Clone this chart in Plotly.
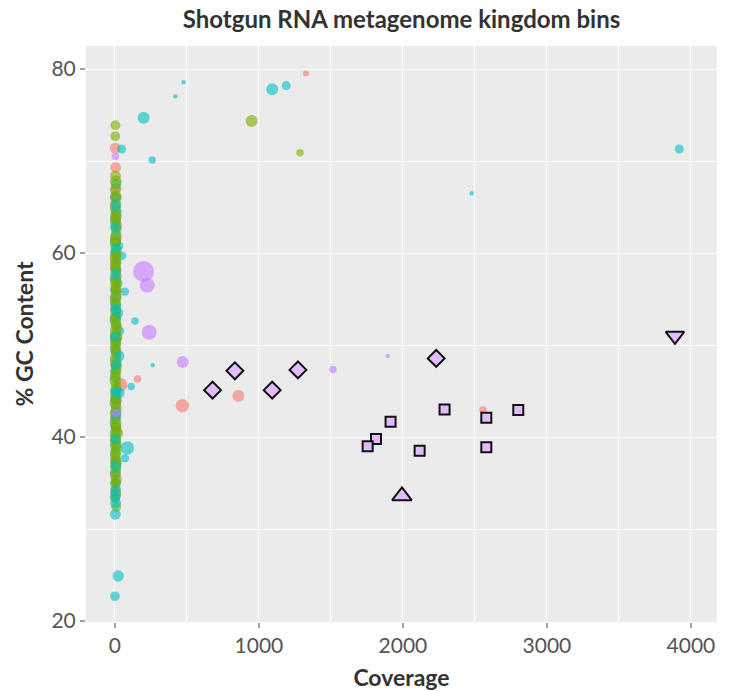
import plotly.graph_objects as go

# ---------------- data ----------------
# red group (coverage, GC, relative size)
red_x = [2, 5, 8, 3, 12, 6, 4, 10, 7, 3, 15, 9, 5, 40, 11, 6, 8, 4, 9, 3, 5, 4, 7, 3, 6,
         157, 468, 857, 1326, 2556]
red_y = [71.4, 69.3, 67.0, 65.0, 63.0, 61.5, 59.3, 57.5, 55.5, 53.8, 51.8, 49.3, 47.8, 45.7, 44.0, 42.8, 41.0, 39.6, 37.2, 35.8, 33.9, 66.2, 64.1, 58.4, 50.6,
         46.3, 43.4, 44.5, 79.5, 42.95]
red_s = [3.6, 3.6, 3.6, 3.6, 3.6, 3.6, 3.6, 3.6, 3.6, 3.6, 3.6, 3.6, 3.6, 4.5, 3.6, 3.6, 3.6, 3.6, 3.6, 3.6, 3.6, 3.6, 3.6, 3.6, 3.6,
         2.5, 4.5, 4, 2, 2.5]

# green group
green_x = [3, 2, 4, 6, 2, 8, 5, 3, 7, 4, 10, 6, 2, 9, 5, 3, 8, 4, 6, 12, 3, 7, 5, 2, 9, 4, 6, 3, 8, 5, 11, 4, 2, 7, 5, 3, 9, 6, 4, 8, 2, 5, 7, 3, 6, 4, 10, 5, 2, 8,
           949, 1285]
green_y = [73.9, 72.7, 68.4, 67.8, 66.9, 66.1, 65.4, 64.7, 64.0, 63.2, 62.6, 61.7, 61.0, 60.3, 59.5, 58.9, 58.1, 57.2, 56.6, 55.9, 55.1, 54.3, 53.6, 52.7, 52.1, 51.2, 50.6, 49.7, 49.1, 48.2, 47.6, 46.7, 46.1, 45.2, 44.6, 43.7, 43.1, 42.2, 41.6, 40.7, 40.1, 39.2, 38.6, 37.7, 37.1, 36.2, 35.4, 34.4, 33.3, 32.4,
           74.35, 70.9]
green_s = [3.3, 3.3, 3.6, 3.9, 3.6, 3.9, 3.6, 3.6, 3.9, 3.6, 3.6, 3.9, 3.6, 3.6, 3.9, 3.6, 3.6, 3.9, 3.6, 3.6, 3.9, 3.6, 3.6, 3.9, 3.6, 3.6, 3.9, 3.6, 3.6, 3.9, 3.6, 3.6, 3.9, 3.6, 3.6, 3.9, 3.6, 3.6, 3.9, 3.6, 3.6, 3.9, 3.6, 3.6, 3.9, 3.6, 3.6, 3.3, 3.3, 3.3,
           4, 2.5]
green_extra_x = [5, 3, 8, 4, 6, 2, 7, 4, 5, 3, 6, 8, 4, 2, 6, 5, 3, 7, 4, 6, 15, 20]
green_extra_y = [63.6, 61.3, 59.9, 58.5, 56.2, 54.7, 53.1, 51.6, 50.1, 48.6, 47.1, 45.6, 44.1, 42.6, 41.1, 39.6, 38.1, 36.6, 35.0, 33.8, 50.9, 40.4]

# cyan group
cyan_x = [46, 8, 4, 10, 3, 7, 5, 30, 2, 9, 50, 6, 4, 69, 25, 3, 8, 5, 2, 7, 35, 4, 6, 3, 9, 5, 2, 8, 4, 6, 3, 86, 69, 5, 2, 7, 4, 6, 3, 5, 23, 0,
          477, 419, 199, 1092, 1190, 259, 139, 262, 113, 2477, 3919]
cyan_y = [71.3, 67.5, 66.0, 64.5, 63.7, 62.0, 61.2, 60.8, 60.0, 59.0, 59.7, 58.2, 57.0, 55.8, 56.7, 56.0, 55.2, 54.5, 53.0, 52.3, 51.5, 51.0, 50.2, 49.5, 48.0, 47.2, 46.5, 45.0, 44.2, 43.5, 42.0, 38.8, 37.7, 41.3, 40.5, 39.0, 38.3, 37.4, 36.0, 35.0, 24.9, 22.7,
          78.55, 77.0, 74.7, 77.8, 78.2, 70.1, 52.6, 47.8, 45.5, 66.5, 71.3]
cyan_s = [3, 3.6, 3.6, 3.6, 3.6, 3.6, 3.6, 2.8, 3.6, 3.6, 2.8, 3.6, 3.6, 2.8, 2.8, 3.6, 3.6, 3.6, 3.6, 3.6, 2.8, 3.6, 3.6, 3.6, 3.6, 3.6, 3.6, 3.6, 3.6, 3.6, 3.6, 4.5, 2.8, 3.6, 3.6, 3.6, 3.6, 3.6, 3.6, 3.6, 3.8, 3.2,
          1.5, 1.5, 4, 4, 3, 2.5, 2.5, 1.5, 2.5, 1.5, 3]
cyan_extra_x = [4, 2, 5, 3, 30, 28, 20, 6, 3, 7, 4, 5, 2, 6, 3, 8, 4, 5]
cyan_extra_y = [34.2, 33.5, 32.8, 31.6, 44.8, 48.8, 53.5, 65.2, 62.8, 60.5, 57.7, 54.0, 50.9, 47.8, 44.9, 42.5, 39.8, 36.8]

# purple group
purple_x = [199, 224, 238, 470, 1514, 1894, 3, 6]
purple_y = [58.0, 56.5, 51.4, 48.15, 47.35, 48.8, 70.5, 42.6]
purple_s = [7, 5, 5, 4, 2.5, 1.5, 2.5, 3]

# highlighted bins
diamond_x = [678, 833, 1092, 1271, 2231]
diamond_y = [45.1, 47.2, 45.1, 47.3, 48.55]
square_x = [1914, 1813, 1755, 2116, 2289, 2579, 2579, 2801]
square_y = [41.65, 39.8, 39.0, 38.5, 43.0, 42.1, 38.9, 42.95]
tri_up_x = [1993]
tri_up_y = [33.6]
tri_down_x = [3889]
tri_down_y = [51.0]

title = "Shotgun RNA metagenome kingdom bins"
x_label = "Coverage"
y_label = "% GC Content"

# ---------------- figure ----------------
def px(s):
    return [v * 3.0 for v in s]

fig = go.Figure()

def add(xs, ys, ss, color):
    fig.add_trace(go.Scatter(x=xs, y=ys, mode="markers",
                             marker=dict(size=px(ss), color=color, opacity=0.6, line=dict(width=0)),
                             hoverinfo="x+y", showlegend=False))

add(red_x, red_y, red_s, "#F8766D")
add(cyan_x, cyan_y, cyan_s, "#00BFC4")
add(green_x, green_y, green_s, "#7CAE00")
add(green_extra_x, green_extra_y, [3.6] * len(green_extra_x), "#7CAE00")
add(cyan_extra_x, cyan_extra_y, [3.6] * len(cyan_extra_x), "#00BFC4")
add(purple_x, purple_y, purple_s, "#C77CFF")

def add_shape(xs, ys, symbol, size):
    fig.add_trace(go.Scatter(x=xs, y=ys, mode="markers",
                             marker=dict(symbol=symbol, size=size, color="#E2BCFF",
                                         line=dict(width=2, color="#111111")),
                             showlegend=False))

add_shape(diamond_x, diamond_y, "diamond", 13)
add_shape(square_x, square_y, "square", 10)
add_shape(tri_up_x, tri_up_y, "triangle-up", 17)
add_shape(tri_down_x, tri_down_y, "triangle-down", 16)

FONT = "Lato, Open Sans, sans-serif"
axis_common = dict(
    showgrid=True, gridcolor="white", gridwidth=1.3,
    zeroline=False, showline=False, automargin=False,
    ticks="outside", ticklen=5, tickwidth=2, tickcolor="#A0A0A0",
    tickfont=dict(family=FONT, size=21, color="#555555"),
    minor=dict(showgrid=True, gridcolor="white", gridwidth=0.6, ticks=""),
)

W, H = 731, 691
fig.update_layout(
    width=W, height=H,
    paper_bgcolor="white", plot_bgcolor="#EBEBEB",
    margin=dict(l=86, r=14, t=46, b=69),
    title=dict(text="<b>" + title + "</b>", x=401.5 / W, xanchor="center",
               y=1 - 20 / H, yanchor="middle",
               font=dict(family=FONT, size=24, color="#333333")),
    xaxis=dict(range=[-201, 4181], tickvals=[0, 1000, 2000, 3000, 4000],
               title=dict(text="<b>" + x_label + "</b>", standoff=14,
                          font=dict(family=FONT, size=23, color="#333333")),
               **axis_common),
    yaxis=dict(range=[19.9, 82.5], tickvals=[20, 40, 60, 80],
               title=dict(text="<b>" + y_label + "</b>", standoff=11,
                          font=dict(family=FONT, size=23, color="#333333")),
               **axis_common),
)
fig.update_xaxes(minor=dict(tickvals=[500, 1500, 2500, 3500]))
fig.update_yaxes(minor=dict(tickvals=[30, 50, 70]))

fig.write_html("out.html", config={"displayModeBar": False},
               post_script="document.body.style.margin='0';")
